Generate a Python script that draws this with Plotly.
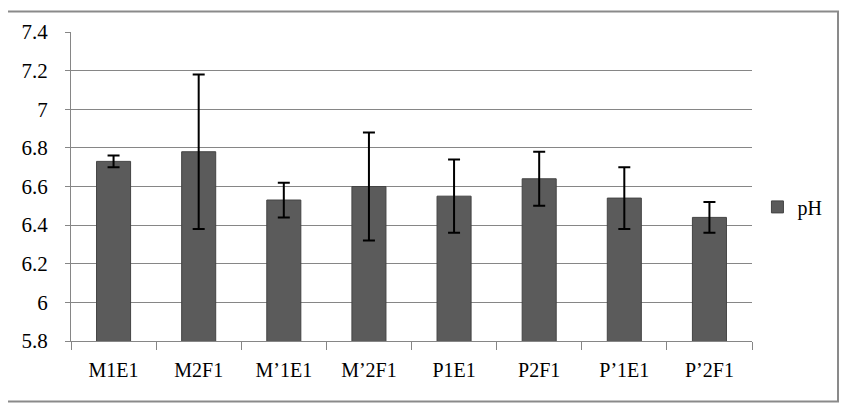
import plotly.graph_objects as go

categories = ["M1E1", "M2F1", "M\u20191E1", "M\u20192F1", "P1E1", "P2F1", "P\u20191E1", "P\u20192F1"]
ph_values = [6.73, 6.78, 6.53, 6.60, 6.55, 6.64, 6.54, 6.44]
ph_errors = [0.03, 0.40, 0.09, 0.28, 0.19, 0.14, 0.16, 0.08]
y_ticks = [5.8, 6, 6.2, 6.4, 6.6, 6.8, 7, 7.2, 7.4]
y_tick_labels = ["5.8", "6", "6.2", "6.4", "6.6", "6.8", "7", "7.2", "7.4"]

FONT = "Liberation Serif"
GRID = "#868686"

fig = go.Figure()
fig.add_trace(go.Bar(
    x=categories, y=ph_values, name="pH",
    width=0.4,
    marker=dict(color="#5b5b5b", line=dict(color="#444444", width=1)),
    error_y=dict(type="data", array=ph_errors, visible=True,
                 color="black", thickness=2, width=6),
))

fig.update_layout(
    width=848, height=411,
    margin=dict(l=63, r=104, t=17, b=78),
    paper_bgcolor="white", plot_bgcolor="white",
    font=dict(family=FONT, size=20, color="black"),
    showlegend=True,
    legend=dict(x=1.008, y=0.434, xanchor="left", yanchor="middle",
                font=dict(family=FONT, size=20, color="black"),
                itemwidth=30, bgcolor="rgba(0,0,0,0)"),
    bargap=0.6,
    xaxis=dict(
        type="category", tickson="boundaries",
        ticks="outside", ticklen=8, tickcolor=GRID, tickwidth=1,
        showline=True, linecolor=GRID, linewidth=1,
        showgrid=False, ticklabelstandoff=11,
        tickfont=dict(family=FONT, size=20, color="black"),
    ),
    yaxis=dict(
        range=[5.8, 7.4], tickvals=y_ticks, ticktext=y_tick_labels,
        ticks="outside", ticklen=5, tickcolor=GRID, tickwidth=1,
        showline=True, linecolor=GRID, linewidth=1,
        showgrid=True, gridcolor=GRID, gridwidth=1,
        zeroline=False, ticklabelstandoff=13,
        tickfont=dict(family=FONT, size=21, color="black"),
    ),
    shapes=[dict(type="rect", xref="paper", yref="paper",
                 x0=-0.0984, x1=1.1263, y0=-0.196, y1=1.0665,
                 line=dict(color="#8a8a8a", width=2), fillcolor="rgba(0,0,0,0)",
                 layer="below")],
)

fig.write_html("out.html")
